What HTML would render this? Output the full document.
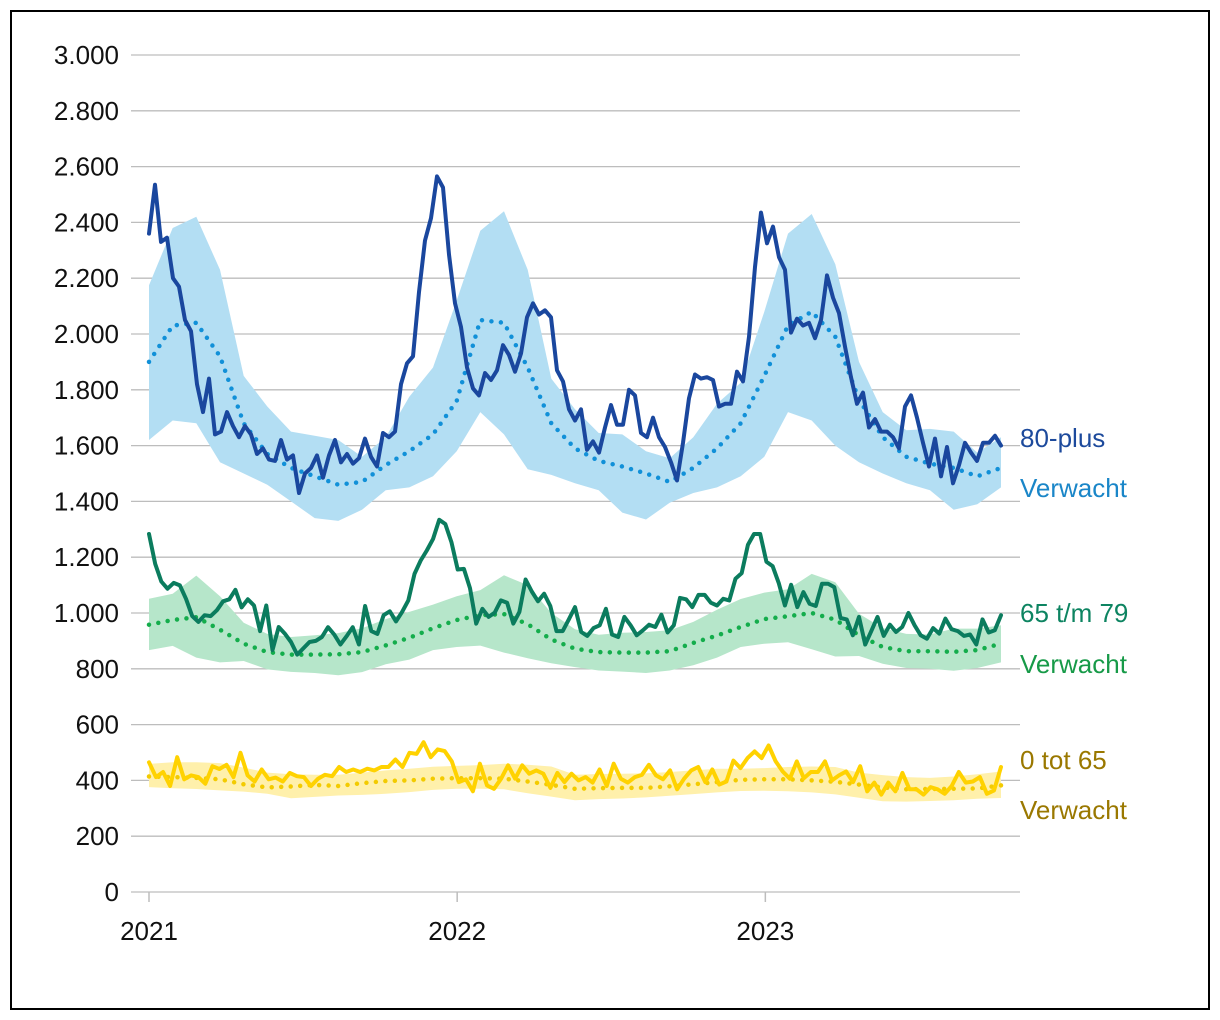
<!DOCTYPE html>
<html><head><meta charset="utf-8">
<style>
html,body{margin:0;padding:0;background:#fff;}
svg{display:block;font-family:"Liberation Sans",sans-serif;}
</style></head>
<body>
<svg id="chart" width="1220" height="1020" viewBox="0 0 1220 1020" xmlns="http://www.w3.org/2000/svg">
<rect x="11" y="11" width="1198" height="998" fill="#fff" stroke="#000" stroke-width="2"/>
<g id="grid"></g>
<g id="bands"></g>
<g id="lines"></g>
<g id="axes"></g>
<g font-size="26">
<text x="1020" y="447" fill="#1d4a9c">80-plus</text>
<text x="1020" y="497" fill="#1a86c8">Verwacht</text>
<text x="1020" y="622" fill="#0d8461">65 t/m 79</text>
<text x="1020" y="673" fill="#179a48">Verwacht</text>
<text x="1020" y="769" fill="#9a7800">0 tot 65</text>
<text x="1020" y="819" fill="#9a7800">Verwacht</text>
</g>
</svg>
<script>
const yTicks = [0,200,400,600,800,1000,1200,1400,1600,1800,2000,2200,2400,2600,2800,3000];
const yTickLabels = ["0","200","400","600","800","1.000","1.200","1.400","1.600","1.800","2.000","2.200","2.400","2.600","2.800","3.000"];
const xTickWeeks = [0,51,102];
const xTickLabels = ["2021","2022","2023"];
const totalWeeks = 141;

const actual80 = [2360,2535,2330,2345,2200,2170,2050,2010,1820,1720,1840,1640,1650,1720,1670,1630,1670,1640,1570,1590,1550,1545,1620,1550,1565,1430,1500,1520,1565,1485,1565,1620,1540,1570,1535,1555,1625,1560,1525,1645,1630,1650,1820,1895,1920,2150,2335,2415,2565,2525,2285,2110,2025,1880,1805,1780,1860,1835,1870,1960,1925,1865,1930,2060,2110,2070,2085,2060,1870,1830,1730,1690,1730,1585,1615,1575,1665,1745,1675,1675,1800,1780,1645,1630,1700,1630,1595,1540,1475,1610,1770,1855,1840,1845,1835,1740,1750,1750,1865,1830,1990,2240,2435,2325,2385,2275,2230,2005,2055,2030,2040,1985,2050,2210,2130,2075,1955,1845,1750,1790,1665,1695,1650,1650,1630,1590,1740,1780,1700,1610,1525,1625,1490,1595,1465,1530,1610,1575,1545,1610,1610,1635,1600];
const expected80 = [1900,2030,2040,1920,1680,1570,1520,1490,1460,1470,1530,1580,1640,1760,2050,2040,1880,1680,1590,1545,1525,1500,1470,1520,1590,1680,1850,2030,2080,1990,1765,1630,1560,1535,1520,1490,1520];
const upper80 = [2175,2380,2420,2230,1850,1740,1650,1635,1620,1560,1630,1775,1880,2120,2370,2440,2230,1840,1730,1645,1640,1580,1555,1630,1750,1825,2080,2360,2430,2250,1900,1720,1655,1660,1650,1575,1630];
const lower80 = [1620,1690,1680,1540,1500,1460,1400,1340,1330,1370,1440,1450,1490,1580,1720,1640,1515,1495,1465,1440,1360,1335,1395,1430,1450,1490,1560,1720,1690,1600,1540,1500,1465,1440,1370,1390,1450];

const actual65 = [1283,1176,1113,1087,1108,1099,1051,989,968,992,989,1010,1042,1049,1083,1020,1049,1027,935,1027,867,950,926,896,851,873,896,900,914,949,923,887,917,949,887,1025,935,925,992,1006,970,1004,1045,1140,1188,1224,1265,1334,1319,1253,1156,1158,1089,962,1015,986,1001,1045,1037,962,1004,1120,1077,1042,1069,1025,935,935,977,1021,932,918,946,956,1015,923,914,986,956,920,938,958,950,994,930,956,1054,1049,1021,1065,1065,1037,1027,1051,1045,1123,1143,1244,1283,1283,1184,1168,1108,1027,1101,1021,1075,1033,1025,1105,1105,1093,982,977,920,986,887,935,986,918,958,932,950,1000,956,920,908,946,926,980,942,935,918,923,887,977,930,938,992];
const expected65 = [958,975,985,940,890,860,851,851,852,860,884,911,945,975,992,996,960,905,872,860,858,858,863,893,919,950,978,988,1000,976,920,878,863,863,861,867,890];
const upper65 = [1051,1069,1134,1060,965,925,914,920,928,945,978,1004,1030,1060,1082,1135,1100,1000,942,922,929,932,938,968,1012,1050,1073,1085,1140,1110,997,946,925,923,944,944,956];
const lower65 = [867,882,840,823,828,798,789,785,777,788,816,833,867,878,883,858,838,820,806,794,790,785,794,813,840,878,890,895,870,844,846,818,803,800,793,803,823];

const actual0 = [465,412,430,380,483,404,418,412,388,451,441,456,412,499,418,396,439,404,410,396,427,415,412,380,406,420,415,448,430,439,430,442,436,448,448,475,448,499,495,537,483,511,505,468,394,404,361,460,382,370,406,454,406,454,424,436,424,373,427,394,424,400,412,392,439,380,460,406,392,412,420,456,418,404,436,368,406,436,448,394,439,385,396,471,444,480,504,480,525,468,432,406,468,408,430,430,468,400,418,432,394,451,361,392,349,392,361,427,368,368,349,376,368,352,380,430,392,396,412,352,364,448];
const expected0 = [414,412,409,404,386,375,378,384,380,390,398,400,406,408,408,406,396,384,370,372,373,373,379,386,394,402,404,404,400,395,385,375,368,369,370,371,382];
const upper0 = [459,465,465,462,446,428,422,420,420,428,436,442,449,452,455,460,456,450,420,423,424,425,430,436,442,442,444,448,450,448,428,419,412,409,414,422,432];
const lower0 = [376,372,369,364,360,352,336,341,346,348,352,358,366,370,370,368,354,342,329,333,335,339,345,351,357,362,363,361,357,350,338,325,324,326,329,334,337];

const NS = "http://www.w3.org/2000/svg";
const X0 = 149, X1 = 1001, Y0 = 892, YTOP = 55, VMAX = 3000;
function yScale(v){ return Y0 - v * (Y0 - YTOP) / VMAX; }
function xSeries(i, n){ return X0 + i * (X1 - X0) / (n - 1); }
function xWeek(w){ return X0 + w * (X1 - X0) / totalWeeks; }
function mk(tag, attrs, parent){
  const el = document.createElementNS(NS, tag);
  for (const k in attrs) el.setAttribute(k, attrs[k]);
  parent.appendChild(el);
  return el;
}
function linePath(arr){
  return arr.map((v,i)=>(i?'L':'M')+xSeries(i,arr.length).toFixed(1)+','+yScale(v).toFixed(1)).join('');
}
function bandPath(up, lo){
  let d = up.map((v,i)=>(i?'L':'M')+xSeries(i,up.length).toFixed(1)+','+yScale(v).toFixed(1)).join('');
  for (let i = lo.length-1; i >= 0; i--) d += 'L'+xSeries(i,lo.length).toFixed(1)+','+yScale(lo[i]).toFixed(1);
  return d + 'Z';
}

const grid = document.getElementById('grid');
const axes = document.getElementById('axes');
yTicks.forEach((t, k) => {
  const ln = mk('line', {x1:131, x2:1020, y1:yScale(t), y2:yScale(t), stroke:'#bdbdbd', 'stroke-width':1.3}, grid);
  
  
  const tx = mk('text', {x:119, y:yScale(t)+9, 'text-anchor':'end', 'font-size':26, fill:'#111'}, axes);
  tx.textContent = yTickLabels[k];
  
  
});
xTickWeeks.forEach((w, k) => {
  const tk = mk('line', {x1:xWeek(w), x2:xWeek(w), y1:Y0, y2:Y0+10, stroke:'#bdbdbd', 'stroke-width':1.5}, axes);
  
  
  const tx = mk('text', {x:xWeek(w), y:940, 'text-anchor':'middle', 'font-size':26, fill:'#111'}, axes);
  tx.textContent = xTickLabels[k];
  
  
});

const bands = document.getElementById('bands');
const lines = document.getElementById('lines');
const series = [
  {name:'80-plus', up:upper80, lo:lower80, exp:expected80, act:actual80, band:'#b3def3', dot:'#1190d8', line:'#1a479e'},
  {name:'65-79', up:upper65, lo:lower65, exp:expected65, act:actual65, band:'#b6e6ca', dot:'#14ad4c', line:'#0b7c5e'},
  {name:'0-65', up:upper0, lo:lower0, exp:expected0, act:actual0, band:'#fff0ab', dot:'#f3cb00', line:'#ffd200'}
];
series.forEach(s => {
  const b = mk('path', {d:bandPath(s.up, s.lo), fill:s.band, stroke:'none'}, bands);
  
  
});
series.forEach(s => {
  const e = mk('path', {d:linePath(s.exp), fill:'none', stroke:s.dot, 'stroke-width':4.5, 'stroke-linecap':'round', 'stroke-dasharray':'0 9.5'}, lines);
  
  
  const a = mk('path', {d:linePath(s.act), fill:'none', stroke:s.line, 'stroke-width':4, 'stroke-linejoin':'round', 'stroke-linecap':'round'}, lines);
  
  
});
</script>
</body></html>
